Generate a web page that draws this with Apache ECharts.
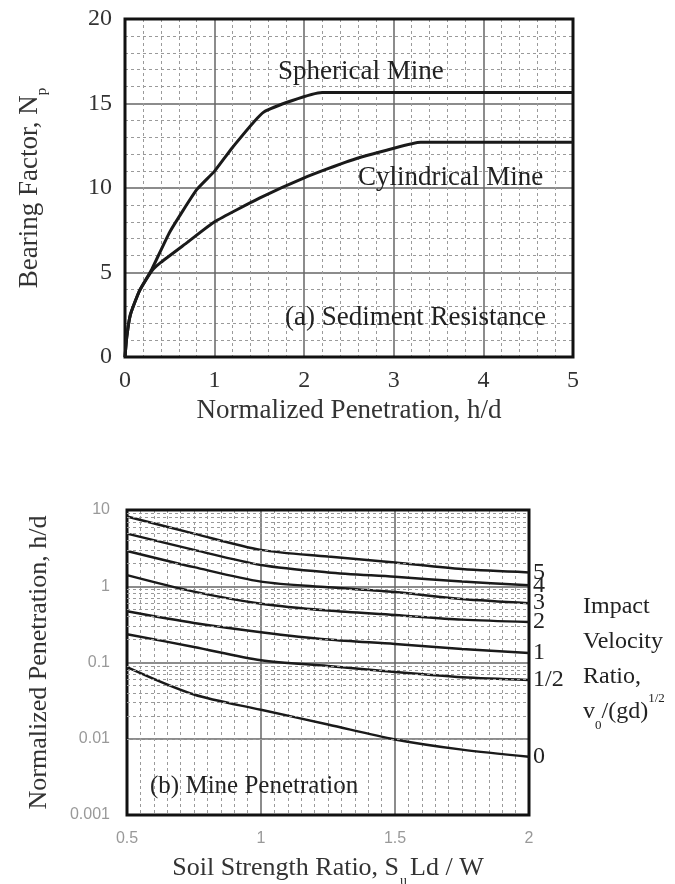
<!DOCTYPE html>
<html>
<head>
<meta charset="utf-8">
<title>Bearing factor and mine penetration</title>
<script src="https://cdn.jsdelivr.net/npm/echarts@6/dist/echarts.min.js"></script>
<style>
	html, body { margin: 0; padding: 0; background: #fff; }
	#main { width: 675px; height: 884px; }
</style>
</head>
<body>
<div id="main"></div>
<script>
// (a) sediment resistance: bearing factor Np against h/d
var spherX = [0, 0.02, 0.06, 0.16, 0.3, 0.5, 0.8, 1.0, 1.2, 1.55, 2.2, 5];
var spherY = [0, 1.2, 2.5, 3.9, 5.2, 7.4, 9.9, 11.0, 12.4, 14.5, 15.65, 15.65];
var cylX = [0, 0.02, 0.06, 0.16, 0.3, 0.4, 0.7, 1.0, 1.5, 2.0, 2.5, 3.0, 3.3, 5];
var cylY = [0, 1.2, 2.5, 3.9, 5.1, 5.6, 6.8, 8.0, 9.4, 10.6, 11.6, 12.35, 12.7, 12.7];

// (b) mine penetration h/d against soil strength ratio, one line per velocity ratio
var ratioX = [0.5, 0.75, 1.0, 1.25, 1.5, 1.75, 2.0];
var velocityNames = ['5', '4', '3', '2', '1', '1/2', '0'];
var pen5 = [8.2, 4.9, 3.0, 2.45, 2.05, 1.68, 1.52];
var pen4 = [4.9, 3.0, 1.9, 1.52, 1.33, 1.15, 1.03];
var pen3 = [2.9, 1.78, 1.15, 0.97, 0.84, 0.68, 0.6];
var pen2 = [1.4, 0.85, 0.59, 0.48, 0.42, 0.365, 0.34];
var pen1 = [0.47, 0.33, 0.25, 0.2, 0.175, 0.15, 0.133];
var penHalf = [0.235, 0.16, 0.107, 0.09, 0.075, 0.064, 0.059];
var pen0 = [0.087, 0.038, 0.024, 0.0154, 0.0098, 0.0072, 0.0058];
var logLabels = ['0.001', '0.01', '0.1', '1', '10'];

var serif = '"Liberation Serif", "DejaVu Serif", serif';
var ink = '#1a1a1a';

function zip(xs, ys) {
	var out = [];
	for (var i = 0; i < xs.length; i++) out.push([xs[i], ys[i]]);
	return out;
}

// log minor grid (2..9 in every decade)
var minorLog = [];
for (var d = -3; d < 1; d++) {
	for (var k = 2; k < 10; k++) minorLog.push({ yAxis: k * Math.pow(10, d) });
}

var myChart = echarts.init(document.getElementById('main'));

var majorLine = { show: true, lineStyle: { color: '#666', width: 1.5 } };
var minorLine = { show: true, lineStyle: { color: '#9a9a9a', width: 1, type: [3, 3] } };

var penSeries = [pen5, pen4, pen3, pen2, pen1, penHalf, pen0];
var series = [{
	type: 'line',
	name: 'Spherical Mine',
	xAxisIndex: 0,
	yAxisIndex: 0,
	data: zip(spherX, spherY),
	smooth: 0.15,
	showSymbol: false,
	lineStyle: { color: ink, width: 3 },
	z: 3
}, {
	type: 'line',
	name: 'Cylindrical Mine',
	xAxisIndex: 0,
	yAxisIndex: 0,
	data: zip(cylX, cylY),
	smooth: 0.15,
	showSymbol: false,
	lineStyle: { color: ink, width: 3 },
	z: 3
}, {
	type: 'line',
	xAxisIndex: 1,
	yAxisIndex: 1,
	data: [],
	silent: true,
	z: 1,
	markLine: {
		silent: true,
		symbol: 'none',
		label: { show: false },
		lineStyle: { color: '#9a9a9a', width: 1, type: [3, 3] },
		data: minorLog
	}
}];
for (var i = 0; i < penSeries.length; i++) {
	series.push({
		type: 'line',
		name: velocityNames[i],
		xAxisIndex: 1,
		yAxisIndex: 1,
		data: zip(ratioX, penSeries[i]),
		smooth: 0.3,
		showSymbol: false,
		lineStyle: { color: ink, width: 2.5 },
		z: 3,
		endLabel: {
			show: true,
			formatter: '{a}',
			fontFamily: serif,
			fontSize: 24,
			color: '#222',
			distance: 4
		}
	});
}

var option = {
	backgroundColor: '#fff',
	animation: false,
	grid: [{
		left: 125, top: 19, width: 448, height: 338,
		show: true, borderColor: '#111', borderWidth: 3, z: 1,
		outerBoundsMode: 'none'
	}, {
		left: 127, top: 510, width: 402, height: 305,
		show: true, borderColor: '#111', borderWidth: 3, z: 1,
		outerBoundsMode: 'none'
	}],
	xAxis: [{
		type: 'value',
		gridIndex: 0,
		min: 0, max: 5, interval: 1,
		axisLine: { show: false },
		axisTick: { show: false },
		axisLabel: { fontFamily: serif, fontSize: 24, color: '#333', margin: 12 },
		splitLine: majorLine,
		minorTick: { show: false, splitNumber: 5 },
		minorSplitLine: minorLine,
		name: 'Normalized Penetration, h/d',
		nameLocation: 'middle',
		nameGap: 40,
		nameTextStyle: { fontFamily: serif, fontSize: 27, color: '#333' }
	}, {
		type: 'value',
		gridIndex: 1,
		min: 0.5, max: 2, interval: 0.5,
		axisLine: { show: false },
		axisTick: { show: false },
		axisLabel: { fontFamily: '"Liberation Sans", Arial, sans-serif', fontSize: 16, color: '#999', margin: 16 },
		splitLine: majorLine,
		minorTick: { show: false, splitNumber: 10 },
		minorSplitLine: minorLine,
		name: 'Soil Strength Ratio, S{sub|u}Ld / W',
		nameLocation: 'middle',
		nameGap: 25,
		nameTextStyle: {
			fontFamily: serif, fontSize: 26, color: '#333', lineHeight: 40,
			rich: { sub: { fontFamily: serif, fontSize: 14, color: '#333', lineHeight: 14, verticalAlign: 'bottom', padding: [0, 3, 0, 1] } }
		}
	}],
	yAxis: [{
		type: 'value',
		gridIndex: 0,
		min: 0, max: 20, interval: 5,
		axisLine: { show: false },
		axisTick: { show: false },
		axisLabel: { fontFamily: serif, fontSize: 24, color: '#333', margin: 13 },
		splitLine: majorLine,
		minorTick: { show: false, splitNumber: 5 },
		minorSplitLine: minorLine,
		name: 'Bearing Factor, N{sub|p}',
		nameLocation: 'middle',
		nameRotate: 90,
		nameGap: 75,
		nameTextStyle: {
			fontFamily: serif, fontSize: 27, color: '#333', lineHeight: 40,
			rich: { sub: { fontFamily: serif, fontSize: 15, color: '#333', lineHeight: 15, verticalAlign: 'bottom' } }
		}
	}, {
		type: 'log',
		logBase: 10,
		gridIndex: 1,
		min: 0.001, max: 10,
		axisLine: { show: false },
		axisTick: { show: false },
		axisLabel: {
			fontFamily: '"Liberation Sans", Arial, sans-serif', fontSize: 16, color: '#999', margin: 17,
			formatter: function(v) {
				return logLabels[Math.round(Math.log10(v)) + 3];
			}
		},
		splitLine: majorLine,
		name: 'Normalized Penetration, h/d',
		nameLocation: 'middle',
		nameRotate: 90,
		nameGap: 75,
		nameTextStyle: { fontFamily: serif, fontSize: 26, color: '#333' }
	}],
	graphic: [
		{ type: 'text', x: 278, y: 72, z: 10, style: { text: 'Spherical Mine', fontFamily: serif, fontSize: 27, fill: '#222', verticalAlign: 'middle' } },
		{ type: 'text', x: 358, y: 178, z: 10, style: { text: 'Cylindrical Mine', fontFamily: serif, fontSize: 27, fill: '#222', verticalAlign: 'middle' } },
		{ type: 'text', x: 285, y: 318, z: 10, style: { text: '(a) Sediment Resistance', fontFamily: serif, fontSize: 27, fill: '#222', verticalAlign: 'middle' } },
		{ type: 'text', x: 150, y: 786, z: 10, style: { text: '(b) Mine Penetration', fontFamily: serif, fontSize: 25, fill: '#222', verticalAlign: 'middle' } },
		{ type: 'text', x: 583, y: 589, z: 10, style: { text: 'Impact\nVelocity\nRatio,', fontFamily: serif, fontSize: 24, lineHeight: 35, fill: '#222', verticalAlign: 'top' } },
		{ type: 'text', x: 583, y: 712, z: 10, style: {
			text: 'v{sub|0}/(gd){sup|1/2}', fontFamily: serif, fontSize: 24, lineHeight: 40, fill: '#222', verticalAlign: 'middle',
			rich: {
				sub: { fontFamily: serif, fontSize: 13, lineHeight: 13, verticalAlign: 'bottom', fill: '#222' },
				sup: { fontFamily: serif, fontSize: 13, lineHeight: 13, verticalAlign: 'top', fill: '#222' }
			}
		} }
	],
	series: series
};

myChart.setOption(option);
</script>
</body>
</html>
